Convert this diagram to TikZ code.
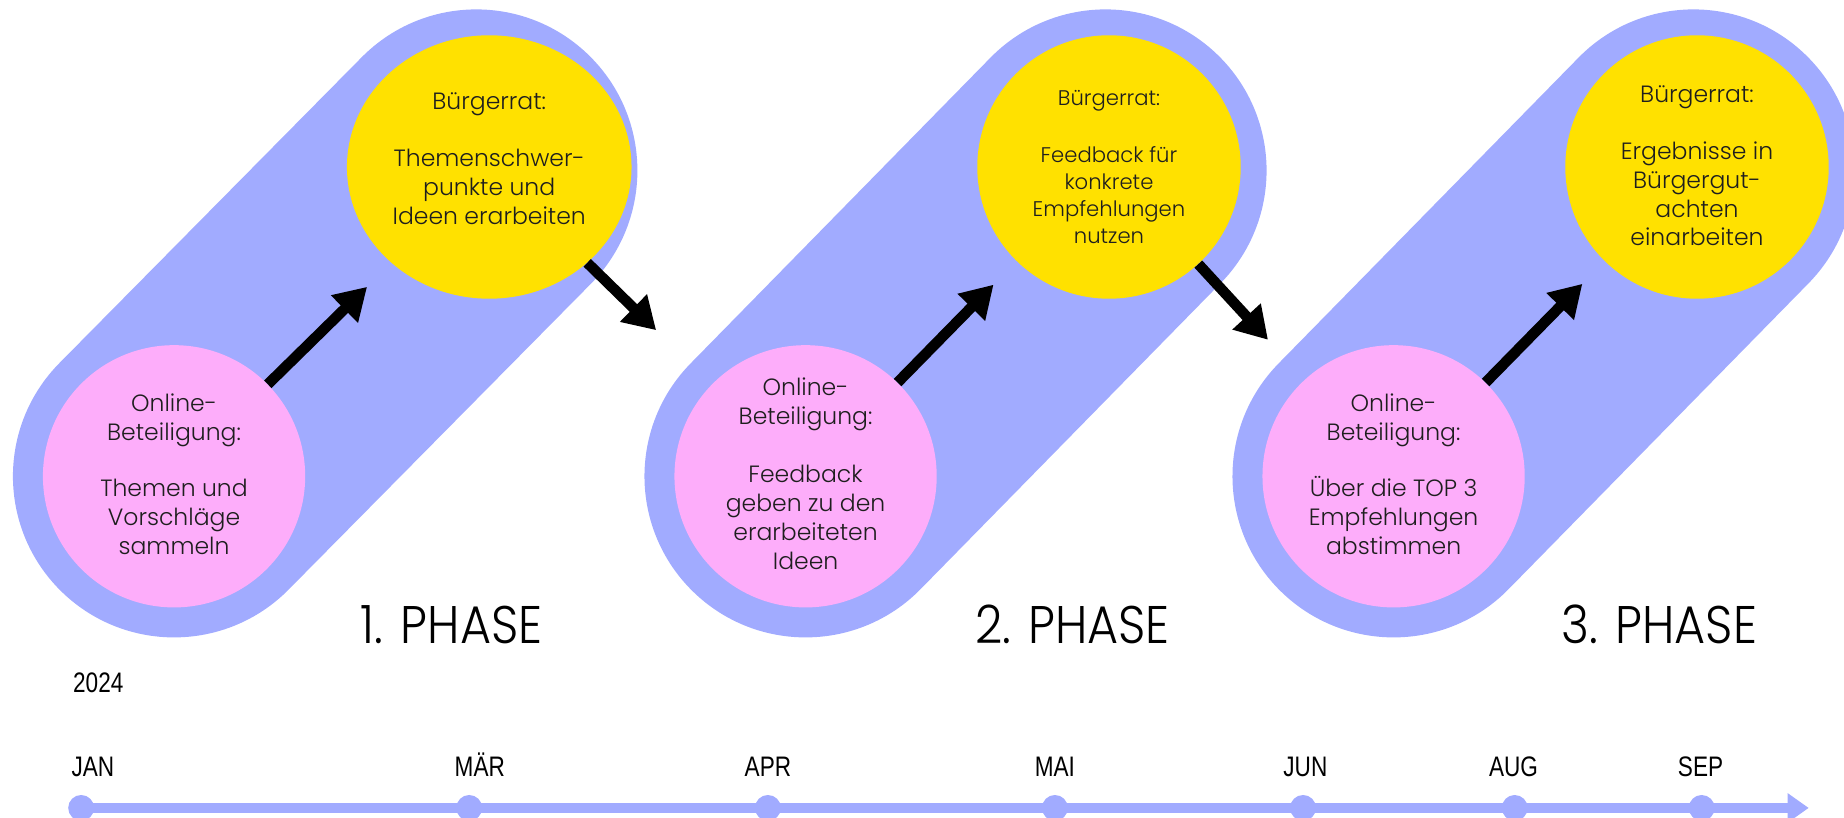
\documentclass[tikz,border=0pt]{standalone}
\usepackage{fontspec}
\usetikzlibrary{arrows.meta,shapes.geometric}
\IfFontExistsTF{Poppins Light}{\setmainfont{Poppins Light}\newfontfamily\phasefont{Poppins Light}[FakeStretch=0.9]}{\setmainfont{Poppins}\newfontfamily\phasefont{Poppins}[FakeStretch=0.9]}
\newfontfamily\narrowfont{Liberation Sans}[FakeStretch=0.8]
\definecolor{pillblue}{RGB}{161,171,255}
\definecolor{pinkc}{RGB}{253,173,250}
\definecolor{yellowc}{RGB}{255,225,0}
\definecolor{txt}{RGB}{30,30,30}
\begin{document}
\begin{tikzpicture}[x=1pt,y=-1pt,
  pill/.style={line width=274pt, line cap=round, draw=pillblue},
  pinkdot/.style={circle, fill=pinkc, minimum size=223pt, inner sep=0pt},
  yellowdot/.style={circle, fill=yellowc, minimum size=224pt, inner sep=0pt},
  ctext/.style={align=center, text=txt, font=\fontsize{20}{24.5}\selectfont, inner sep=0pt},
  stext/.style={align=center, text=txt, font=\fontsize{18}{23}\selectfont, inner sep=0pt},
  arr/.style={line width=9pt, draw=black, -{Triangle[length=27pt,width=31pt]}},
  phase/.style={font=\phasefont\fontsize{45}{50}\selectfont, text=black, inner sep=0pt, anchor=base},
  month/.style={font=\narrowfont\fontsize{24}{26}\selectfont, text=black, inner sep=0pt, anchor=base},
  tickdot/.style={circle, fill=pillblue, minimum width=20pt, minimum height=22pt, inner sep=0pt},
  tline/.style={line width=8pt, draw=pillblue, -{Triangle[length=18pt,width=24pt]}}
]
\useasboundingbox (0,0) rectangle (1568,695);
\clip (0,0) rectangle (1568,695);

% pills
\coordinate (a1) at (148,405); \coordinate (b1) at (405,145);
\coordinate (a2) at (685,405); \coordinate (b2) at (940,145);
\coordinate (a3) at (1185,405); \coordinate (b3) at (1440,145);
\draw[pill] (a1) -- (b1);
\draw[pill] (a2) -- (b2);
\draw[pill] (a3) -- (b3);

% circles
\node[pinkdot] (p1) at (148,405) {};
\node[pinkdot] (p2) at (685,405) {};
\node[pinkdot] (p3) at (1185,405) {};
\node[ellipse, fill=yellowc, minimum width=242pt, minimum height=224pt, inner sep=0pt] (y1) at (416,142) {};
\node[yellowdot] (y2) at (943,142) {};
\node[yellowdot] (y3) at (1443,142) {};

% texts
\node[ctext] (tp1) at (148,403) {Online-\\Beteiligung:\\[23.5pt]Themen und\\Vorschläge\\sammeln};
\node[ctext] (tp2) at (685,403) {Online-\\Beteiligung:\\[25pt]Feedback\\geben zu den\\erarbeiteten\\Ideen};
\node[ctext] (tp3) at (1185,403) {Online-\\Beteiligung:\\[23.5pt]Über die TOP 3\\Empfehlungen\\abstimmen};
\node[ctext] (ty1) at (416,135) {Bürgerrat:\\[24pt]Themenschwer-\\punkte und\\Ideen erarbeiten};
\node[stext] (ty2) at (943,142) {Bürgerrat:\\[25pt]Feedback für\\konkrete\\Empfehlungen\\nutzen};
\node[ctext] (ty3) at (1443,141) {Bürgerrat:\\[24pt]Ergebnisse in\\Bürgergut-\\achten\\einarbeiten};

% arrows
\draw[arr, shorten >=29pt] (p1) -- (y1);
\draw[arr, shorten >=66pt] (y1) -- (p2);
\draw[arr, shorten >=28pt] (p2) -- (y2);
\draw[arr, shorten >=46pt] (y2) -- (p3);
\draw[arr, shorten >=27pt] (p3) -- (y3);

% phase labels
\node[phase] (ph1) at (384,547) {1. PHASE};
\node[phase] (ph2) at (912,547) {2. PHASE};
\node[phase] (ph3) at (1411,547) {3. PHASE};

% timeline
\node[month, anchor=base west] (yr) at (62,589) {2024};
\node[month] (m1) at (79,660) {JAN};
\node[month] (m2) at (408,660) {MÄR};
\node[month] (m3) at (653,660) {APR};
\node[month] (m4) at (897,660) {MAI};
\node[month] (m5) at (1110,660) {JUN};
\node[month] (m6) at (1287,660) {AUG};
\node[month] (m7) at (1446,660) {SEP};
\coordinate (tend) at (1538,687);
\node[tickdot] (d1) at (69,687) {};
\node[tickdot] (d2) at (399,687) {};
\node[tickdot] (d3) at (653,687) {};
\node[tickdot] (d4) at (897,687) {};
\node[tickdot] (d5) at (1108,687) {};
\node[tickdot] (d6) at (1288,687) {};
\node[tickdot] (d7) at (1447,687) {};
\draw[tline] (d1.center) -- (tend);
\end{tikzpicture}
\end{document}
